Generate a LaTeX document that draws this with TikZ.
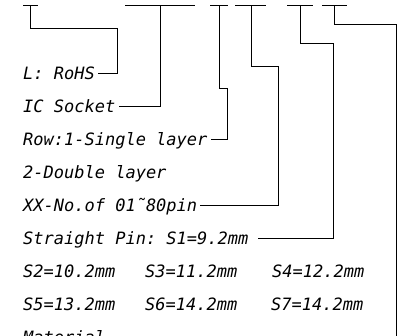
\documentclass[tikz,border=0pt]{standalone}
\usepackage{fontspec}
\setmonofont{DejaVu Sans Mono}
\usepackage{tikz}
\usetikzlibrary{calc}
\definecolor{ink}{HTML}{000000}
\tikzset{wire/.style={draw=ink,line width=1pt},bar/.style={draw=ink,line width=1pt},lbl/.style={anchor=west,inner xsep=3pt,inner ysep=0pt,text height=12pt,text depth=0pt,font=\fontsize{17}{19}\ttfamily\itshape,text=ink}}
\begin{document}
\begin{tikzpicture}[x=1pt,y=-1pt]
\clip (0,0) rectangle (403,335);
% top bars
\draw[bar] (23,5)--(38,5);\draw[bar] (125,5)--(195,5);\draw[bar] (210,5)--(228,5);
\draw[bar] (235,5)--(266,5);\draw[bar] (287,5)--(313,5);\draw[bar] (322,5)--(347,5);
\coordinate (b1) at (30,5);\coordinate (b2) at (160,5);\coordinate (b3) at (219,5);
\coordinate (b4) at (251,5);\coordinate (b5) at (300,5);\coordinate (b6) at (334,5);
% texts
\node[lbl] (rohs) at (20,73) {L: RoHS};
\node[lbl] (ic) at (20,106) {IC Socket};
\node[lbl] (row) at (20,139) {Row:1-Single layer};
\node[lbl] (dbl) at (20,172) {2-Double layer};
\node[lbl] (xx) at (20,205) {XX-No.of 01˜80pin};
\node[lbl] (sp) at (20,238) {Straight Pin: S1=9.2mm};
\node[lbl] (s2) at (20,271) {S2=10.2mm};\node[lbl] (s3) at (142,271) {S3=11.2mm};\node[lbl] (s4) at (269,271) {S4=12.2mm};
\node[lbl] (s5) at (20,304) {S5=13.2mm};\node[lbl] (s6) at (142,304) {S6=14.2mm};\node[lbl] (s7) at (268,304) {S7=14.2mm};
\node[lbl] (mat) at (20,337) {Material};
\coordinate (end6) at (396,340);
% wires
\draw[wire] (b1)|-(117,28)|-(rohs.east);
\draw[wire] (b2)|-(ic.east);
\draw[wire] (b3)|-(227,88)|-(row.east);
\draw[wire] (b4)|-(278,66)|-(xx.east);
\draw[wire,shorten >=6pt] (b5)|-(333,43)|-(sp.east);
\draw[wire] (b6)|-(396,24)--(end6);
\end{tikzpicture}
\end{document}
